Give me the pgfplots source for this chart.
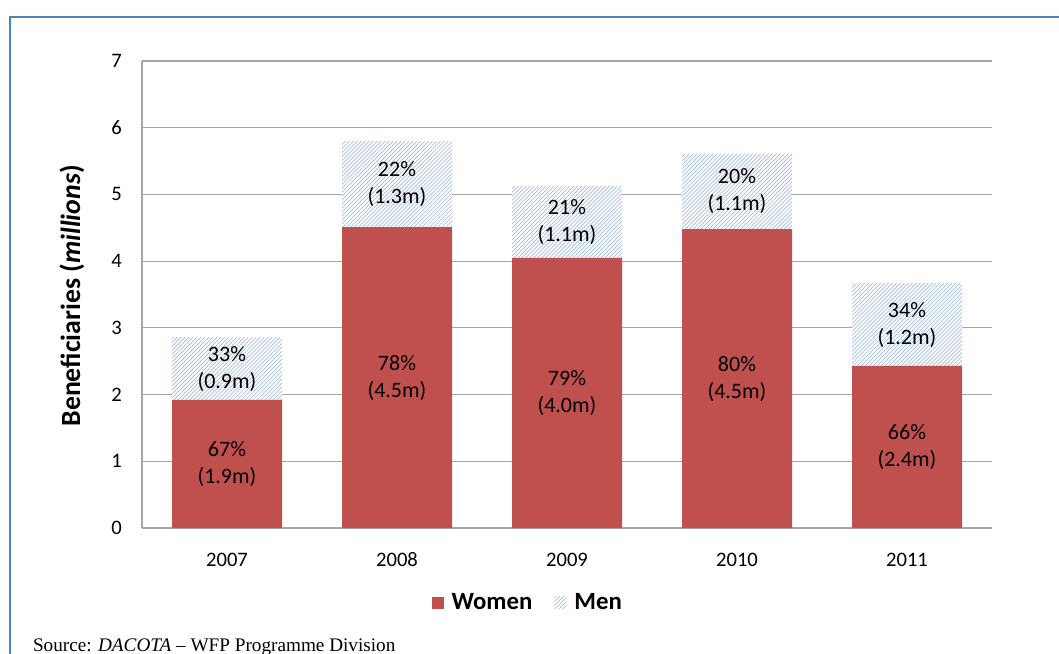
\documentclass[border=0pt]{standalone}
\usepackage{fontspec}
\setmainfont{Carlito}
\newfontfamily\srcfont{Liberation Serif}
\usepackage{pgfplots}
\pgfplotsset{compat=1.18}
\usetikzlibrary{patterns.meta}
\definecolor{women}{HTML}{C0504D}
\definecolor{hatch}{HTML}{A3BCDD}
\definecolor{frameblue}{HTML}{4F81BD}
\definecolor{gridgray}{HTML}{A6A6A6}
\tikzset{lbl/.style={align=center, font=\fontsize{11}{13.5}\selectfont}}

\pgfplotstableread{
x women men
0 1.92 0.94
1 4.51 1.29
2 4.05 1.08
3 4.48 1.13
4 2.43 1.24
}\beneficiaries

\begin{document}
\begin{tikzpicture}
\useasboundingbox (0,0) rectangle (529.5pt,326.5pt);
\begin{scope}
\clip (0,0) rectangle (529.5pt,326.5pt);
\draw[frameblue, line width=1pt] (5pt,-10pt) rectangle (540pt,318pt);
\end{scope}
\begin{axis}[
  at={(71pt,62.5pt)}, anchor=south west,
  width=425pt, height=233.5pt, scale only axis,
  ybar stacked, bar width=55pt,
  xmin=-0.5, xmax=4.5, ymin=0, ymax=7,
  xtick={0,...,4}, xticklabels={2007,2008,2009,2010,2011},
  ytick={0,...,7},
  ymajorgrids, grid style={draw=gridgray, line width=0.6pt},
  axis lines*=left,
  axis line style={draw=gridgray, line width=0.6pt},
  major tick style={draw=none},
  /pgf/number format/assume math mode=true,
  tick label style={font=\fontsize{10.3}{12}\selectfont},
  y tick label style={xshift=-6.5pt},
  x tick label style={yshift=-8.5pt, text height=7pt, text depth=0pt},
  ylabel={\textbf{Beneficiaries (\textit{millions})}},
  ylabel style={at={(axis description cs:-0.0824,0.497)}, anchor=center, font=\fontsize{13.9}{15}\selectfont},
  legend style={at={(axis description cs:0.455,-0.16)}, anchor=center, draw=none,
    legend columns=2, font=\bfseries\fontsize{12.4}{14}\selectfont,
    /tikz/every odd column/.append style={column sep=2pt},
    /tikz/every even column/.append style={column sep=9pt}},
  legend image code/.code={\path[#1] (0pt,-3pt) rectangle (6pt,3pt);},
]
\addplot[fill=women, draw=none] table[x=x, y=women] {\beneficiaries};
\addlegendentry{Women}
\addplot[fill=white, draw=none, postaction={pattern={Lines[angle=45,distance=1.4pt,line width=0.35pt]}, pattern color=hatch}] table[x=x, y=men] {\beneficiaries};
\addlegendentry{Men}
\coordinate (w0) at (axis cs:0,0.96);
\coordinate (w1) at (axis cs:1,2.255);
\coordinate (w2) at (axis cs:2,2.025);
\coordinate (w3) at (axis cs:3,2.24);
\coordinate (w4) at (axis cs:4,1.215);
\coordinate (m0) at (axis cs:0,2.39);
\coordinate (m1) at (axis cs:1,5.155);
\coordinate (m2) at (axis cs:2,4.59);
\coordinate (m3) at (axis cs:3,5.045);
\coordinate (m4) at (axis cs:4,3.05);
\end{axis}
\node[lbl] at (w0) {67\%\\(1.9m)};
\node[lbl] at (w1) {78\%\\(4.5m)};
\node[lbl] at (w2) {79\%\\(4.0m)};
\node[lbl] at (w3) {80\%\\(4.5m)};
\node[lbl] at (w4) {66\%\\(2.4m)};
\node[lbl] at (m0) {33\%\\(0.9m)};
\node[lbl] at (m1) {22\%\\(1.3m)};
\node[lbl] at (m2) {21\%\\(1.1m)};
\node[lbl] at (m3) {20\%\\(1.1m)};
\node[lbl] at (m4) {34\%\\(1.2m)};
\node[anchor=base west, font=\srcfont\fontsize{9.6}{11}\selectfont] at (13pt,0.8pt) {Source: \textit{DACOTA} – WFP Programme Division};
\end{tikzpicture}
\end{document}
